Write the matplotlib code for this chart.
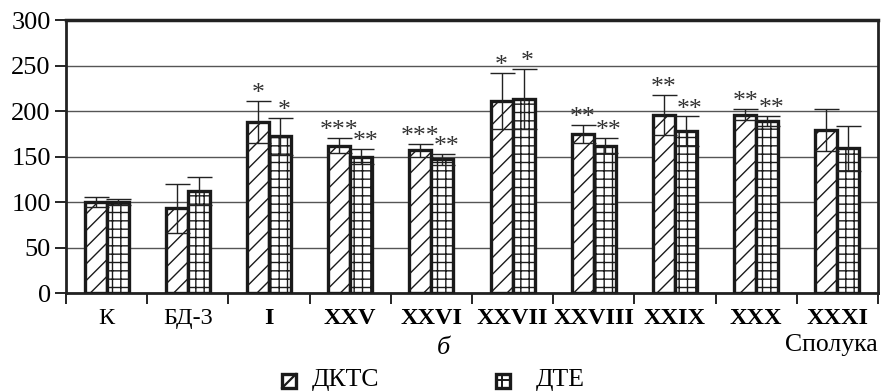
import matplotlib
matplotlib.use("Agg")
import matplotlib.pyplot as plt
import numpy as np
from matplotlib.patches import Rectangle
from matplotlib.lines import Line2D

plt.rcParams['font.family'] = ['Liberation Serif', 'DejaVu Serif']
plt.rcParams['hatch.linewidth'] = 1.0

categories = ["К", "БД-3", "I", "XXV", "XXVI", "XXVII", "XXVIII", "XXIX", "XXX", "XXXI"]
bold_labels = [False, False, True, True, True, True, True, True, True, True]
dkts = [100, 93, 188, 162, 157, 211, 175, 196, 196, 179]
dkts_err = [5, 27, 23, 8, 7, 31, 10, 22, 6, 23]
dte = [100, 112, 172, 150, 147, 213, 162, 178, 189, 159]
dte_err = [3, 15, 20, 8, 6, 33, 8, 16, 6, 25]
dkts_sig = ["", "", "*", "***", "***", "*", "**", "**", "**", ""]
dte_sig = ["", "", "*", "**", "**", "*", "**", "**", "**", ""]
yticks = [0, 50, 100, 150, 200, 250, 300]
series_names = ["ДКТС", "ДТЕ"]
hatches = ['//', '++']

W, H = 885, 391
fig = plt.figure(figsize=(W / 100, H / 100), dpi=100)
ax = fig.add_axes([0.0746, 0.2506, 0.9175, 0.6982])

x = np.arange(len(categories))
w = 0.27
ax.bar(x - w / 2, dkts, w, facecolor='white', edgecolor='#1a1a1a', linewidth=2.4,
       hatch=hatches[0], zorder=3)
ax.bar(x + w / 2, dte, w, facecolor='white', edgecolor='#1a1a1a', linewidth=2.4,
       hatch=hatches[1], zorder=3)
ax.errorbar(x - w / 2, dkts, yerr=dkts_err, fmt='none', ecolor='#222222', elinewidth=1.0,
            capsize=9, capthick=1.0, zorder=4)
ax.errorbar(x + w / 2, dte, yerr=dte_err, fmt='none', ecolor='#222222', elinewidth=1.0,
            capsize=9, capthick=1.0, zorder=4)

for xi, v, e, s in zip(x - w / 2, dkts, dkts_err, dkts_sig):
    if s:
        ax.text(xi, v + e + 1, s, ha='center', va='baseline', fontsize=18.5, color='#333333')
for xi, v, e, s in zip(x + w / 2, dte, dte_err, dte_sig):
    if s:
        ax.text(xi + 0.05, v + e + 1, s, ha='center', va='baseline', fontsize=18.5, color='#333333')

ax.set_xlim(-0.5, len(categories) - 0.5)
ax.set_ylim(0, 300)
ax.set_yticks(yticks)
ax.set_yticklabels([str(t) for t in yticks], fontsize=19)
ax.yaxis.grid(True, color='#555555', linewidth=1.0, zorder=0)
ax.set_axisbelow(True)

ax.set_xticks(np.arange(len(categories) + 1) - 0.5)
ax.set_xticklabels([])
ax.set_xticks(x, minor=True)
ax.set_xticklabels(categories, minor=True, fontsize=17.5)
for lbl, b in zip(ax.get_xticklabels(minor=True), bold_labels):
    if b:
        lbl.set_fontweight('bold')
ax.tick_params(axis='x', which='minor', length=0, pad=11)
ax.tick_params(axis='x', which='major', length=8, width=1.2, direction='out')
ax.tick_params(axis='y', length=8, width=1.2, direction='out', pad=3)

for sp in ['left', 'bottom', 'right']:
    ax.spines[sp].set_linewidth(2.0)
ax.spines['top'].set_linewidth(2.5)
for sp in ax.spines.values():
    sp.set_color('#222222')

fig.text(443 / W, 1 - 348 / H, "б", fontsize=19, style='italic', ha='center', va='center')
fig.text(878 / W, 1 - 345 / H, "Сполука", fontsize=18.5, ha='right', va='center')

# legend drawn by hand
leg = [(282, 312), (496, 536)]
sz = 14
y0 = 388
for i, ((hx, tx), name) in enumerate(zip(leg, series_names)):
    r = Rectangle((hx / W, 1 - y0 / H), sz / W, sz / H, transform=fig.transFigure,
                  facecolor='white', edgecolor='#1a1a1a', linewidth=2.4)
    fig.add_artist(r)
    if i == 0:
        fig.add_artist(Line2D([hx / W, (hx + sz) / W], [1 - y0 / H, 1 - (y0 - sz) / H],
                              transform=fig.transFigure, color='#1a1a1a', linewidth=1.6))
    else:
        fig.add_artist(Line2D([hx / W, (hx + sz) / W], [1 - (y0 - sz * 0.6) / H] * 2,
                              transform=fig.transFigure, color='#1a1a1a', linewidth=1.4))
        fig.add_artist(Line2D([(hx + sz * 0.4) / W] * 2, [1 - y0 / H, 1 - (y0 - sz) / H],
                              transform=fig.transFigure, color='#1a1a1a', linewidth=1.4))
    fig.text(tx / W, 1 - 386 / H, name, fontsize=18.5, ha='left', va='baseline')

fig.savefig("out.png", dpi=100)
